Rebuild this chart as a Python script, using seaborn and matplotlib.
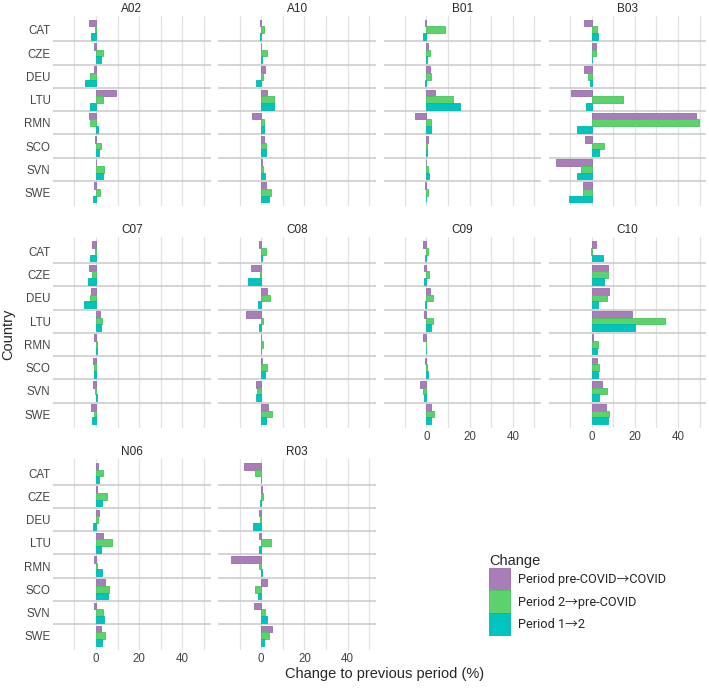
import matplotlib
matplotlib.use("Agg")
import matplotlib.pyplot as plt
import matplotlib.patches as mpatches
import seaborn as sns
import pandas as pd

countries = ["CAT", "CZE", "DEU", "LTU", "RMN", "SCO", "SVN", "SWE"]
codes = ["A02", "A10", "B01", "B03", "C07", "C08", "C09", "C10", "N06", "R03"]
changes = ["Period pre-COVID\u2192COVID", "Period 2\u2192pre-COVID", "Period 1\u21922"]

# one row per code, values in country order
covid_change = [
    [-3.4, -0.7, -1.0, 9.2, -3.4, -0.4, 0.2, -0.7],
    [-0.5, -0.3, 1.8, 2.9, -4.3, 1.5, 0.6, 2.2],
    [-0.6, 0.6, 1.5, 3.8, -5.5, 0.8, 0.0, -0.6],
    [-3.4, 2.1, -3.4, -9.4, 48.5, -2.9, -16.5, -3.8],
    [-1.8, -3.4, -2.2, 2.0, -1.1, -1.4, -1.4, -2.2],
    [-0.8, -4.9, 2.5, -6.9, 0.0, 0.6, -2.6, 3.2],
    [-1.5, -1.1, 1.5, -0.9, -1.5, -0.8, -3.1, 2.0],
    [2.0, 7.7, 8.2, 18.8, 0.7, 2.6, 4.6, 6.5],
    [0.9, 0.4, 1.5, 3.1, -1.1, 4.3, -1.1, 2.3],
    [-8.0, 0.4, -0.9, -1.2, -13.8, 2.8, -3.5, 5.1],
]
precovid_change = [
    [-0.4, 3.4, -2.9, 3.1, -2.9, 2.3, 3.8, 1.8],
    [1.4, 2.5, 0.9, 6.0, 1.4, 2.2, 0.9, 4.5],
    [8.5, 1.5, 2.0, 12.3, 2.0, 0.1, 0.7, 0.7],
    [2.3, 2.1, -1.8, 14.6, 49.7, 5.8, -4.8, -3.8],
    [-0.5, -1.8, -2.6, 2.8, 0.4, -0.9, -0.3, -0.8],
    [2.2, -0.6, 4.0, 0.9, 0.9, 2.5, -2.0, 4.9],
    [0.8, 1.1, 3.1, 3.1, -0.3, 0.4, -1.5, 3.5],
    [-0.4, 7.7, 6.9, 33.8, 3.1, 3.4, 6.9, 8.2],
    [3.1, 5.1, 0.8, 7.4, 0.4, 6.2, 3.1, 4.3],
    [-2.8, 0.8, -0.4, 4.6, -0.8, -2.8, 1.8, 3.5],
]
period12_change = [
    [-2.2, 2.3, -5.2, -2.6, 0.9, 1.2, 3.1, -1.4],
    [-0.5, 0.3, -2.3, 5.7, 1.1, 2.2, 1.8, 3.7],
    [-1.5, 0.4, -0.7, 15.7, 2.0, 0.2, 1.0, 0.0],
    [2.8, 0.0, -0.8, -2.6, -6.8, 3.5, -6.8, -10.5],
    [-2.9, -3.7, -5.7, 2.5, 0.4, -0.9, 0.4, -1.8],
    [0.3, -6.2, -1.5, -0.8, 0.0, 1.8, -2.6, 2.2],
    [-0.5, -1.1, -0.6, 2.3, -0.3, 0.6, -1.1, 2.0],
    [5.1, 5.8, 2.8, 20.0, 2.5, 2.8, 3.5, 7.7],
    [1.5, 2.8, -1.4, 2.3, 2.8, 5.7, 3.8, 2.8],
    [0.0, -0.4, -3.8, -1.2, 0.3, -1.7, 2.8, 1.2],
]

fill_colors = ["#A87DB8", "#5BD26B", "#00C5BE"]
edge_colors = ["#9A6CAE", "#45C65A", "#00B8B0"]

rows = []
for i, code in enumerate(codes):
    for series, name in zip([covid_change, precovid_change, period12_change], changes):
        for country, val in zip(countries, series[i]):
            rows.append({"code": code, "Country": country, "Change": name, "value": val})
df = pd.DataFrame(rows)

sns.set_theme(style="white")
plt.rcParams["font.family"] = ["Liberation Sans", "DejaVu Sans"]

fig, axes = plt.subplots(3, 4, figsize=(7.09, 6.89), dpi=100, sharex=True, sharey=True,
                         gridspec_kw=dict(left=0.075, right=0.996, top=0.977, bottom=0.057,
                                          wspace=0.05, hspace=0.163))
flat = axes.flatten()

for k, code in enumerate(codes):
    ax = flat[k]
    sub = df[df["code"] == code]
    for x in range(-10, 60, 10):
        ax.axvline(x, color="#E2E2E2", lw=0.9, zorder=0)
    for y in range(len(countries) - 1):
        ax.axhline(y + 0.5, color="#C9C9C9", lw=1.1, zorder=0)
    sns.barplot(data=sub, x="value", y="Country", hue="Change", order=countries,
                hue_order=changes, palette=fill_colors, orient="h", width=0.86,
                saturation=1, errorbar=None, legend=False, ax=ax, zorder=2)
    for cont, ec in zip(ax.containers, edge_colors):
        for bar in cont:
            bar.set_edgecolor(ec)
            bar.set_linewidth(0.6)
    ax.set_title(code, fontsize=8.5, pad=3)
    ax.set_xlim(-19.8, 53.0)
    ax.set_ylim(7.6, -0.6)
    ax.set_xticks([0, 20, 40])
    ax.set_xlabel("")
    ax.set_ylabel("")
    for s in ax.spines.values():
        s.set_visible(False)
    ax.tick_params(length=0, labelsize=8.3, pad=2, colors="#444444")

for ax in flat[len(codes):]:
    ax.set_visible(False)

# x tick labels only on the lowest panel of each column
for k, ax in enumerate(flat[:len(codes)]):
    show = k + 4 >= len(codes)
    ax.tick_params(axis="x", labelbottom=show)

fig.text(0.543, 0.012, "Change to previous period (%)", ha="center", va="bottom", fontsize=10.5)
fig.text(0.012, 0.515, "Country", rotation=90, ha="center", va="center", fontsize=10.5)

handles = [mpatches.Patch(facecolor=c, edgecolor=e, lw=0.6) for c, e in zip(fill_colors, edge_colors)]
leg = fig.legend(handles=handles, labels=changes, title="Change", loc="upper left",
                 bbox_to_anchor=(0.683, 0.203), frameon=False, fontsize=9.2, title_fontsize=10.5,
                 handlelength=1.62, handleheight=2.3, labelspacing=0.0, handletextpad=0.6,
                 alignment="left", borderaxespad=0)
for t in leg.get_texts():
    t.set_family(["Roboto", "Noto Sans CJK SC"])

fig.savefig("out.png", dpi=100)
